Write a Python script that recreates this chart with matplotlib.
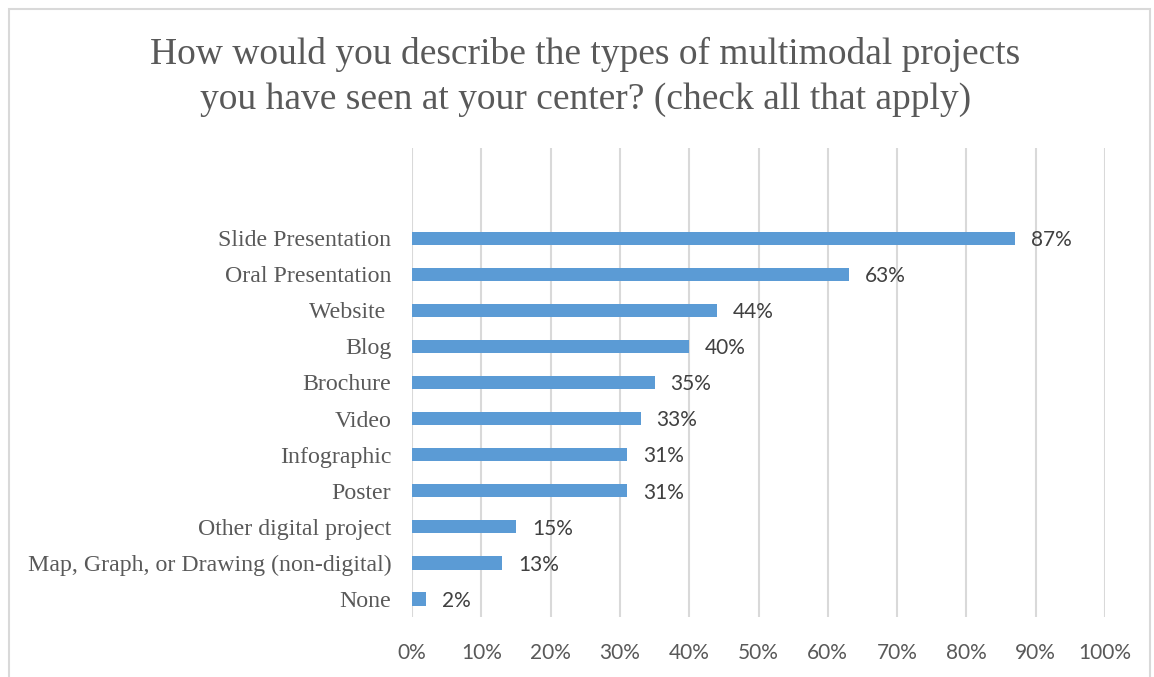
import matplotlib.pyplot as plt
from matplotlib.patches import Rectangle

categories = ['Slide Presentation', 'Oral Presentation', 'Website ', 'Blog', 'Brochure',
              'Video', 'Infographic', 'Poster', 'Other digital project',
              'Map, Graph, or Drawing (non-digital)', 'None']
values = [87, 63, 44, 40, 35, 33, 31, 31, 15, 13, 2]
ticks = [0, 10, 20, 30, 40, 50, 60, 70, 80, 90, 100]

fig = plt.figure(figsize=(11.54, 6.77), dpi=100)
ax = fig.add_axes([412 / 1154, 1 - 617 / 677, (1105 - 412) / 1154, (617 - 148) / 677])

pos = list(range(len(categories)))
ax.barh(pos, values, height=0.37, color='#5B9BD5', zorder=3)
for p, v in zip(pos, values):
    ax.text(v + 2.3, p + 0.05, '%d%%' % v, va='center', ha='left',
            fontsize=15, family='Lato', color='#404040')

ax.set_xlim(0, 100)
ax.set_ylim(10.5, -2.5)
ax.set_xticks(ticks)
ax.set_xticklabels(['%d%%' % t for t in ticks], family='Lato', fontsize=15, color='#595959')
ax.set_yticks(pos)
ax.set_yticklabels(categories, family='Liberation Serif', fontsize=17.2, color='#595959')
ax.tick_params(length=0, axis='both')
ax.tick_params(axis='x', pad=19)
ax.tick_params(axis='y', pad=15)
ax.grid(axis='x', color='#D9D9D9', linewidth=1.5, zorder=0)
for s in ax.spines.values():
    s.set_visible(False)

fig.text(0.507, 1 - 77 / 677,
         'How would you describe the types of multimodal projects\nyou have seen at your center? (check all that apply)',
         ha='center', va='center', family='Liberation Serif', fontsize=27, color='#595959',
         linespacing=1.36)

fig.patches.append(Rectangle((9 / 1154, -0.05), (1150 - 9) / 1154, 1 - 9 / 677 + 0.05,
                             transform=fig.transFigure, fill=False,
                             edgecolor='#D9D9D9', linewidth=1.5))

plt.savefig('out.png', dpi=100)
